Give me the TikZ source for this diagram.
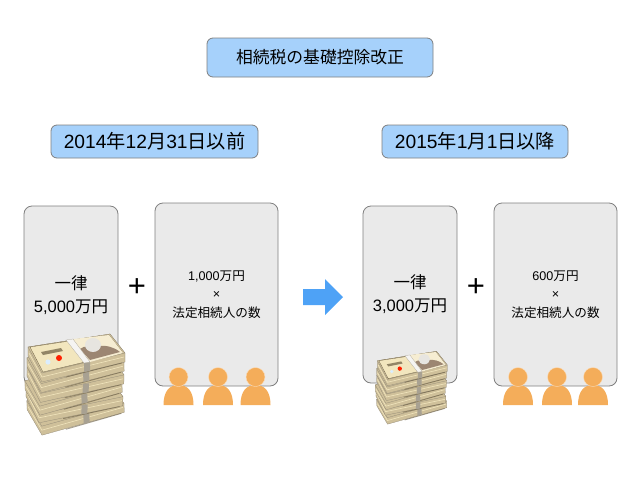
\documentclass[tikz,border=0pt]{standalone}
\usepackage{fontspec}
\setmainfont{Liberation Sans}
\newfontfamily\cjk{Noto Sans CJK JP}
\newcommand{\jp}[1]{{\cjk #1}}
\usetikzlibrary{positioning}
\definecolor{headblue}{HTML}{A6D1FB}
\definecolor{panelgray}{HTML}{EAEAEA}
\definecolor{edgegray}{HTML}{7F7F7F}
\definecolor{arrowblue}{HTML}{4EA2F6}
\definecolor{personorange}{HTML}{F4AD5A}
\definecolor{billtan}{HTML}{CFC09A}
\definecolor{billcream}{HTML}{F2E6BE}
\definecolor{billdark}{HTML}{5F5238}
\definecolor{bandgray}{HTML}{A8A192}
\definecolor{portrait}{HTML}{9C8672}
\tikzset{
    %Define style for headings
    headbox/.style={
           rectangle,
           rounded corners=6pt,
           draw=edgegray, thick,
           fill=headblue,
           inner sep=0pt,
           align=center},
    %Define style for the tall panels
    panel/.style={
           rectangle,
           rounded corners=8pt,
           draw=edgegray, thick,
           fill=panelgray,
           inner sep=0pt,
           align=center},
    plus/.style={font=\fontsize{31}{31}\selectfont},
    bundle/.pic={
           \fill[billtan,draw=billdark!70,line width=.25pt,line join=round]
              (-48,-6) -- (-48,3) -- (-34,29) -- (49,9) -- (49,0) -- (34,-19) -- cycle;
           \draw[billcream,line width=.6pt] (-47,0) -- (-34,24) -- (48,4);
           \draw[billdark,line width=.8pt,opacity=.55] (-10,24) -- (46,10);
           \fill[billtan,draw=billdark!70,line width=.25pt,line join=round]
              (-48,-6) -- (34,-19) -- (49,0) -- (-34,20) -- cycle;
           \fill[bandgray] (8,10) -- (14,9) -- (14,18) -- (8,19) -- cycle;
    },
    topbill/.pic={
           \fill[billcream,draw=billdark,line width=.25pt,line join=round]
              (-46,-6) -- (33,-18) -- (47,0) -- (-33,19) -- cycle;
           \fill[billcream!70!white] (-3,-14) -- (33,-18) -- (47,0) -- (14,9) -- cycle;
           \fill[portrait] (4,-4) .. controls (8,-8) and (16,-6) .. (22,-7)
              .. controls (30,-8) and (38,-6) .. (44,-1) -- (14,7) -- cycle;
           \fill[white!72!bandgray] (17,-8) ellipse (8 and 7);
           \fill[red!75!orange] (-17,5) circle (3);
           \fill[billdark,opacity=.65] (-35,-1) -- (-15,-5) -- (-13,-2) -- (-33,2) -- cycle;
           \fill[white!60!headblue] (-28,9) circle (2.6);
           \fill[white!88!bandgray,draw=bandgray,line width=.2pt]
              (-10,-13) -- (-3,-14) -- (14,9) -- (8,10) -- cycle;
    },
    billstack/.pic={
           \foreach \bx/\by/\bang in {-1/52/2,-2/42/-2,-3/32/2,-1/21/-1,-1/10/1}
              \pic[rotate=\bang,transform shape] at (\bx,\by) {bundle};
           \pic[transform shape] at (0,0) {bundle};
           \pic[transform shape] at (0,0) {topbill};
    },
    person/.pic={
           \fill[personorange] (-15,28) .. controls (-15,14) and (-9,8) .. (0,8)
              .. controls (9,8) and (15,14) .. (15,28) -- cycle;
           \fill[personorange,draw=white!60!personorange,line width=.4pt] (0,0) circle (9.5);
    }
}
\begin{document}
\begin{tikzpicture}[x=1pt,y=-1pt]
\useasboundingbox (0,0) rectangle (640,480);
% headings
\node[headbox,minimum width=226pt,minimum height=39pt,font=\fontsize{16.8}{20}\selectfont\cjk]
    (title) at (320,57.5) {相続税の基礎控除改正};
\node[headbox,minimum width=207pt,minimum height=33pt,font=\fontsize{19.2}{22}\selectfont]
    (before) at (154.5,141.5) {2014\jp{年}12\jp{月}31\jp{日以前}};
\node[headbox,minimum width=186pt,minimum height=33pt,font=\fontsize{19.2}{22}\selectfont]
    (after) at (475,141.5) {2015\jp{年}1\jp{月}1\jp{日以降}};
% panels
\node[panel,minimum width=94pt,minimum height=179pt,font=\fontsize{16.5}{23}\selectfont]
    (fixedold) at (71,295.5) {\jp{一律}\\5,000\jp{万円}};
\node[panel,minimum width=123pt,minimum height=183pt,font=\fontsize{12.6}{18.5}\selectfont]
    (heirold) at (216.5,294.5) {1,000\jp{万円}\\×\\\jp{法定相続人の数}};
\node[panel,minimum width=94pt,minimum height=177pt,font=\fontsize{16.5}{23}\selectfont]
    (fixednew) at (410,294.5) {\jp{一律}\\3,000\jp{万円}};
\node[panel,minimum width=123pt,minimum height=183pt,font=\fontsize{12.6}{18.5}\selectfont]
    (heirnew) at (555.5,294.5) {600\jp{万円}\\×\\\jp{法定相続人の数}};
\node[plus] (plusold) at (137,288) {+};
\node[plus] (plusnew) at (476,288) {+};
% arrow
\fill[arrowblue] (303,289) -- (325,289) -- (325,279) -- (343,297) -- (325,315)
    -- (325,305) -- (303,305) -- cycle;
% money
\pic[transform shape] at (76,353) {billstack};
\pic[scale=.72,transform shape] at (412,365) {billstack};
% people
\foreach \px in {178.5,218,255.5,518,557,593}
    \pic at (\px,377) {person};
\end{tikzpicture}
\end{document}
